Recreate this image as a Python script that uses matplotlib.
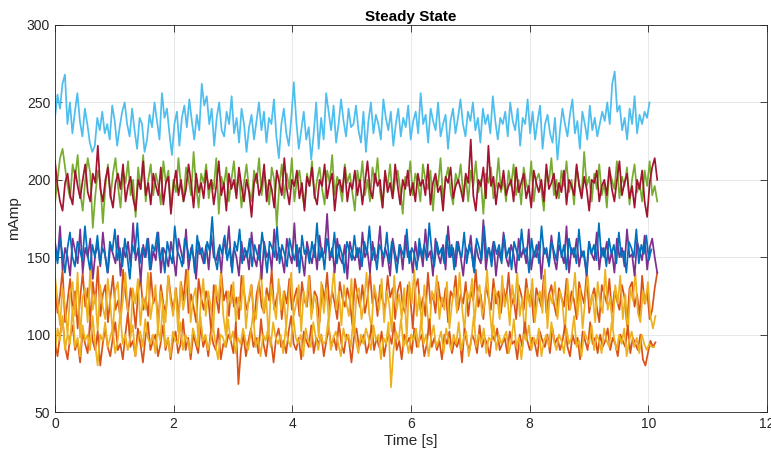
import numpy as np
import matplotlib
matplotlib.use("Agg")
import matplotlib.pyplot as plt

plt.rcParams['font.family'] = ['Liberation Sans', 'DejaVu Sans']

# ---- data (mAmp) ----
t_end_light_blue = 10.02
light_blue = [
    240, 255, 246, 262, 268, 236, 250, 230, 244, 256, 238, 228, 246, 236, 224, 218, 222, 240, 232, 244,
    230, 236, 226, 248, 238, 222, 234, 244, 250, 236, 228, 246, 232, 220, 240, 236, 218, 226, 242, 234,
    250, 238, 226, 256, 240, 246, 230, 216, 236, 244, 222, 240, 248, 234, 252, 238, 226, 242, 232, 262,
    248, 254, 236, 246, 222, 240, 250, 232, 228, 244, 236, 254, 230, 240, 224, 246, 236, 218, 234, 242,
    226, 238, 250, 232, 244, 224, 240, 236, 252, 228, 214, 236, 246, 230, 222, 240, 263, 238, 220, 232,
    244, 226, 234, 213, 230, 250, 220, 240, 226, 256, 244, 232, 248, 224, 236, 252, 238, 228, 246, 234,
    236, 248, 232, 224, 244, 218, 238, 250, 230, 242, 236, 226, 252, 240, 232, 244, 222, 236, 246, 228,
    240, 234, 248, 226, 238, 244, 230, 256, 236, 242, 224, 246, 238, 232, 250, 228, 236, 242, 220, 238,
    246, 230, 240, 252, 236, 228, 244, 238, 250, 232, 240, 224, 246, 236, 242, 230, 254, 238, 226, 240,
    236, 244, 228, 250, 238, 232, 246, 222, 240, 236, 252, 230, 244, 226, 238, 248, 220, 236, 242, 230,
    224, 240, 213, 232, 246, 236, 228, 242, 252, 230, 238, 220, 244, 236, 226, 248, 232, 240, 228, 236,
    244, 238, 250, 236, 262, 270, 244, 248, 232, 240, 226, 246, 236, 254, 230, 242, 236, 244, 240, 250]

t_end_green = 10.15
green = [
    185, 200, 214, 220, 208, 196, 188, 210, 202, 216, 192, 180, 200, 214, 204, 169, 190, 206, 198, 172,
    196, 210, 188, 204, 214, 196, 182, 206, 198, 212, 190, 200, 176, 208, 194, 216, 186, 200, 210, 190,
    204, 196, 184, 212, 198, 206, 180, 200, 192, 214, 196, 186, 208, 200, 190, 218, 196, 182, 204, 198,
    210, 188, 200, 194, 214, 178, 202, 196, 208, 186, 200, 212, 192, 204, 182, 198, 210, 194, 186, 206,
    198, 214, 190, 204, 196, 184, 208, 200, 170, 196, 210, 188, 204, 194, 214, 186, 200, 206, 192, 182,
    204, 196, 212, 188, 200, 208, 194, 184, 206, 198, 216, 190, 202, 196, 186, 210, 198, 204, 192, 180,
    206, 196, 212, 190, 200, 186, 208, 198, 214, 192, 182, 204, 196, 210, 188, 200, 206, 194, 178, 202,
    196, 212, 190, 204, 198, 186, 210, 200, 194, 206, 180, 202, 196, 214, 188, 200, 208, 192, 184, 204,
    198, 210, 190, 202, 186, 206, 196, 212, 192, 200, 178, 204, 198, 208, 188, 196, 214, 192, 200, 186,
    206, 196, 210, 190, 200, 184, 208, 198, 192, 212, 186, 200, 204, 194, 180, 206, 198, 214, 190, 200,
    188, 206, 196, 212, 192, 200, 184, 208, 198, 190, 218, 196, 202, 186, 204, 194, 210, 190, 198, 182,
    206, 200, 194, 212, 188, 202, 196, 208, 184, 200, 210, 192, 198, 186, 206, 196, 212, 190, 196, 186]

t_end_dark_red = 10.15
dark_red = [
    212, 196, 186, 180, 198, 204, 190, 184, 206, 196, 188, 200, 210, 192, 186, 204, 198, 222, 194, 186,
    200, 208, 190, 182, 198, 204, 194, 210, 186, 196, 202, 188, 180, 200, 194, 212, 190, 198, 184, 204,
    196, 190, 208, 184, 198, 202, 178, 196, 206, 190, 200, 186, 194, 210, 198, 182, 204, 192, 198, 188,
    206, 194, 200, 184, 196, 212, 190, 198, 180, 204, 194, 200, 188, 208, 196, 186, 200, 192, 176, 198,
    204, 190, 196, 210, 186, 200, 194, 182, 206, 198, 190, 214, 194, 184, 200, 196, 206, 188, 198, 180,
    202, 196, 208, 190, 184, 200, 196, 210, 188, 198, 204, 180, 196, 200, 192, 208, 186, 198, 194, 206,
    190, 200, 184, 198, 212, 194, 188, 204, 196, 200, 182, 206, 192, 198, 188, 210, 196, 184, 200, 194,
    206, 190, 198, 186, 204, 196, 200, 190, 210, 184, 198, 204, 192, 196, 180, 202, 198, 208, 188, 196,
    200, 194, 186, 204, 198, 226, 190, 180, 200, 196, 208, 188, 222, 196, 202, 184, 198, 194, 206, 190,
    196, 200, 186, 208, 192, 198, 204, 188, 196, 182, 206, 198, 192, 200, 186, 210, 194, 198, 204, 188,
    198, 192, 206, 184, 200, 196, 190, 210, 196, 188, 202, 194, 180, 200, 198, 206, 186, 196, 200, 190,
    208, 194, 186, 200, 212, 190, 198, 204, 188, 196, 182, 200, 194, 206, 186, 176, 198, 208, 214, 200]

t_end_purple = 10.15
purple = [
    160, 148, 170, 142, 156, 150, 138, 162, 154, 146, 168, 140, 156, 150, 162, 136, 152, 158, 144, 166,
    150, 140, 158, 152, 146, 164, 138, 156, 150, 160, 144, 172, 148, 156, 134, 158, 150, 162, 142, 154,
    148, 166, 140, 156, 152, 144, 160, 150, 138, 162, 154, 146, 168, 142, 156, 150, 136, 160, 152, 146,
    158, 142, 164, 150, 148, 156, 140, 162, 152, 170, 144, 156, 150, 138, 160, 148, 154, 142, 166, 150,
    144, 158, 136, 160, 150, 154, 142, 168, 148, 156, 150, 140, 162, 152, 146, 172, 144, 156, 150, 138,
    160, 152, 146, 158, 142, 164, 150, 154, 178, 148, 156, 140, 162, 150, 146, 158, 136, 160, 152, 148,
    156, 142, 166, 150, 154, 140, 160, 148, 152, 170, 144, 156, 150, 138, 162, 152, 146, 158, 142, 164,
    150, 154, 140, 160, 148, 156, 144, 168, 150, 154, 138, 162, 152, 146, 158, 142, 170, 150, 156, 144,
    160, 150, 138, 156, 152, 164, 144, 158, 150, 146, 174, 142, 156, 150, 160, 138, 154, 148, 166, 150,
    144, 158, 152, 140, 162, 150, 156, 146, 168, 142, 154, 150, 160, 136, 156, 152, 146, 164, 150, 142,
    158, 152, 146, 170, 140, 156, 150, 162, 144, 154, 150, 138, 160, 152, 148, 166, 142, 156, 150, 160,
    146, 154, 140, 162, 150, 156, 144, 168, 150, 152, 138, 160, 154, 148, 164, 142, 156, 162, 150, 140]

t_end_blue = 10.05
blue = [
    158, 146, 162, 152, 140, 156, 166, 150, 144, 160, 154, 148, 170, 152, 142, 158, 150, 164, 146, 156,
    152, 140, 160, 154, 168, 148, 156, 144, 162, 150, 136, 158, 152, 172, 146, 156, 150, 162, 142, 158,
    154, 166, 148, 156, 140, 160, 152, 146, 170, 154, 150, 144, 162, 156, 148, 158, 140, 164, 152, 156,
    146, 160, 154, 176, 150, 142, 158, 152, 164, 148, 156, 140, 160, 154, 168, 146, 156, 150, 162, 144,
    158, 152, 148, 166, 154, 140, 160, 156, 150, 170, 146, 158, 152, 144, 162, 154, 148, 158, 140, 164,
    152, 156, 146, 160, 150, 172, 148, 156, 142, 162, 154, 150, 166, 146, 158, 152, 140, 160, 154, 148,
    164, 150, 156, 144, 160, 152, 170, 148, 156, 142, 158, 154, 150, 166, 146, 160, 152, 140, 158, 154,
    150, 168, 146, 156, 152, 142, 162, 150, 158, 148, 172, 154, 144, 160, 152, 156, 146, 164, 150, 158,
    142, 160, 154, 150, 166, 146, 158, 152, 140, 162, 156, 148, 170, 150, 156, 144, 160, 152, 158, 146,
    164, 150, 156, 142, 160, 154, 148, 168, 152, 156, 140, 162, 150, 158, 146, 170, 152, 156, 144, 160,
    154, 148, 166, 150, 158, 142, 162, 152, 156, 146, 168, 150, 154, 140, 160, 152, 158, 148, 172, 150,
    156, 144, 162, 152, 158, 146, 166, 150, 154, 140, 160, 156, 150, 168, 146, 158, 152, 164, 148, 155]

t_end_orange_hi = 10.15
orange_hi = [
    130, 114, 126, 142, 108, 122, 136, 116, 128, 104, 124, 140, 118, 130, 110, 134, 120, 144, 112, 126,
    132, 108, 124, 138, 116, 122, 110, 142, 126, 114, 130, 120, 104, 128, 136, 116, 124, 112, 140, 120,
    126, 108, 132, 120, 114, 138, 124, 116, 130, 110, 134, 122, 142, 114, 126, 118, 108, 136, 124, 116,
    128, 120, 102, 132, 124, 114, 140, 122, 128, 112, 132, 118, 124, 110, 138, 128, 116, 122, 132, 108,
    126, 134, 118, 114, 130, 122, 142, 116, 124, 132, 110, 128, 120, 136, 116, 124, 130, 112, 134, 122,
    118, 138, 114, 128, 124, 108, 132, 122, 140, 116, 128, 120, 110, 134, 124, 118, 130, 122, 106, 136,
    126, 118, 132, 114, 124, 140, 120, 128, 112, 132, 122, 116, 138, 124, 130, 110, 128, 134, 118, 114,
    132, 124, 104, 130, 136, 116, 124, 112, 140, 120, 126, 114, 134, 122, 118, 130, 108, 128, 124, 138,
    116, 126, 120, 134, 112, 128, 122, 142, 118, 126, 110, 132, 124, 116, 136, 120, 128, 114, 130, 122,
    140, 118, 124, 110, 132, 126, 116, 136, 122, 128, 108, 130, 124, 118, 138, 114, 126, 132, 120, 112,
    130, 124, 118, 136, 116, 128, 122, 110, 134, 126, 120, 140, 114, 124, 130, 118, 108, 132, 126, 120,
    136, 114, 128, 122, 116, 132, 124, 106, 130, 134, 118, 126, 112, 138, 120, 128, 110, 116, 130, 140]

t_end_yellow_hi = 10.12
yellow_hi = [
    138, 122, 106, 130, 118, 100, 126, 134, 112, 140, 98, 124, 130, 108, 142, 116, 126, 102, 132, 118,
    110, 136, 120, 100, 128, 134, 108, 122, 140, 114, 98, 130, 120, 136, 106, 124, 116, 140, 110, 122,
    132, 100, 128, 118, 108, 138, 122, 112, 130, 102, 134, 116, 126, 142, 108, 124, 130, 96, 120, 136,
    112, 128, 118, 104, 132, 122, 140, 112, 100, 128, 120, 134, 108, 124, 116, 138, 104, 122, 132, 118,
    110, 130, 142, 114, 126, 98, 132, 120, 110, 136, 116, 128, 104, 124, 140, 112, 120, 132, 102, 128,
    118, 138, 110, 126, 120, 98, 134, 114, 130, 108, 124, 142, 116, 128, 106, 132, 120, 112, 136, 100,
    126, 130, 110, 120, 140, 114, 104, 132, 124, 116, 136, 108, 128, 120, 102, 138, 116, 126, 110, 130,
    98, 134, 120, 142, 112, 126, 106, 132, 118, 100, 128, 122, 138, 110, 124, 116, 134, 104, 120, 130,
    114, 140, 118, 102, 128, 122, 136, 108, 126, 132, 112, 120, 142, 116, 100, 130, 124, 110, 138, 118,
    126, 106, 132, 120, 140, 112, 124, 98, 130, 118, 136, 108, 122, 128, 114, 142, 104, 126, 120, 134,
    110, 128, 120, 100, 136, 116, 124, 140, 112, 130, 104, 122, 138, 118, 126, 108, 134, 120, 114, 142,
    116, 124, 104, 132, 120, 138, 110, 126, 100, 130, 122, 140, 114, 108, 128, 120, 134, 112, 104, 112]

t_end_orange_lo = 10.12
orange_lo = [
    95, 86, 100, 110, 92, 84, 98, 106, 90, 96, 82, 102, 94, 88, 110, 96, 90, 102, 80, 94,
    104, 92, 86, 98, 108, 90, 94, 84, 100, 114, 92, 96, 86, 104, 94, 82, 98, 108, 90, 96,
    100, 86, 94, 106, 90, 98, 84, 96, 102, 88, 94, 110, 90, 98, 84, 100, 94, 88, 106, 92,
    98, 86, 102, 94, 90, 104, 84, 94, 92, 100, 96, 88, 108, 68, 90, 100, 86, 96, 104, 92,
    98, 88, 110, 94, 86, 100, 96, 82, 98, 104, 92, 96, 88, 102, 112, 94, 90, 98, 84, 102,
    96, 92, 106, 88, 98, 94, 100, 86, 96, 104, 92, 98, 90, 108, 94, 88, 100, 96, 82, 98,
    104, 92, 96, 100, 88, 94, 106, 90, 98, 92, 102, 86, 96, 100, 94, 108, 90, 96, 84, 100,
    94, 98, 88, 104, 92, 96, 100, 86, 94, 110, 92, 98, 90, 96, 84, 100, 94, 102, 88, 96,
    92, 98, 82, 104, 94, 90, 100, 96, 88, 106, 92, 98, 94, 86, 100, 96, 104, 90, 94, 98,
    88, 102, 94, 96, 84, 100, 92, 108, 96, 90, 98, 94, 86, 102, 96, 92, 100, 88, 104, 94,
    98, 90, 96, 106, 92, 86, 100, 94, 98, 84, 102, 96, 90, 108, 94, 98, 88, 100, 92, 96,
    104, 90, 98, 94, 86, 100, 96, 92, 106, 88, 98, 94, 90, 100, 84, 80, 88, 96, 92, 95]

t_end_yellow_lo = 10.1
yellow_lo = [
    88, 104, 96, 112, 90, 100, 94, 118, 92, 98, 86, 106, 96, 100, 90, 112, 94, 80, 100, 96,
    108, 92, 98, 104, 88, 96, 114, 94, 100, 90, 98, 106, 86, 96, 102, 92, 110, 98, 94, 100,
    88, 104, 96, 120, 92, 98, 86, 102, 96, 94, 108, 90, 100, 96, 88, 104, 98, 92, 112, 96,
    100, 90, 96, 106, 94, 84, 100, 98, 92, 110, 96, 102, 88, 98, 94, 104, 96, 90, 100, 114,
    92, 98, 86, 100, 96, 104, 92, 108, 98, 94, 100, 88, 104, 96, 92, 112, 98, 94, 100, 86,
    104, 96, 92, 108, 98, 90, 100, 94, 96, 110, 90, 98, 102, 94, 86, 104, 96, 100, 92, 112,
    96, 88, 100, 94, 104, 98, 90, 106, 96, 100, 84, 98, 94, 108, 66, 90, 102, 96, 110, 92,
    98, 88, 100, 96, 104, 92, 110, 94, 100, 86, 98, 106, 92, 96, 102, 88, 104, 96, 90, 100,
    94, 108, 90, 98, 102, 86, 96, 112, 92, 100, 94, 104, 88, 98, 96, 106, 90, 100, 94, 98,
    102, 88, 96, 110, 92, 98, 84, 100, 96, 106, 90, 98, 94, 104, 86, 96, 100, 92, 108, 96,
    90, 100, 96, 88, 104, 94, 98, 112, 92, 96, 86, 102, 98, 94, 106, 90, 100, 96, 88, 104,
    96, 92, 108, 98, 90, 100, 94, 104, 86, 96, 102, 92, 98, 88, 100, 94, 90, 94, 92, 92]

x_ticks = [0, 2, 4, 6, 8, 10, 12]
y_ticks = [50, 100, 150, 200, 250, 300]

series = [
    (orange_hi, t_end_orange_hi, '#D95319'),
    (yellow_hi, t_end_yellow_hi, '#EDB120'),
    (purple, t_end_purple, '#7E2F8E'),
    (blue, t_end_blue, '#0072BD'),
    (green, t_end_green, '#77AC30'),
    (light_blue, t_end_light_blue, '#4DBEEE'),
    (dark_red, t_end_dark_red, '#A2142F'),
    (orange_lo, t_end_orange_lo, '#D95319'),
    (yellow_lo, t_end_yellow_lo, '#EDB120'),
]

fig = plt.figure(figsize=(7.71, 4.53), dpi=100)
ax = fig.add_axes([55/771, 41/453, 712/771, 387/453])

for vals, tend, col in series:
    t = np.linspace(0, tend, len(vals))
    ax.plot(t, vals, color=col, lw=1.25)

ax.set_xlim(0, 12)
ax.set_ylim(50, 300)
ax.set_xticks(x_ticks)
ax.set_yticks(y_ticks)
ax.grid(True, color='#262626', alpha=0.12, lw=0.6)
ax.set_axisbelow(True)
for s in ax.spines.values():
    s.set_color('#262626')
    s.set_linewidth(0.6)
ax.tick_params(direction='in', length=5, width=0.6, colors='#262626',
               labelsize=10, top=True, right=True, labeltop=False, labelright=False)
ax.set_xlabel('Time [s]', fontsize=11, color='#262626', labelpad=2)
ax.set_ylabel('mAmp', fontsize=11, color='#262626', labelpad=4)
ax.set_title('Steady State', fontsize=11, fontweight='bold', color='black', pad=3)

fig.savefig('out.png', dpi=100)
